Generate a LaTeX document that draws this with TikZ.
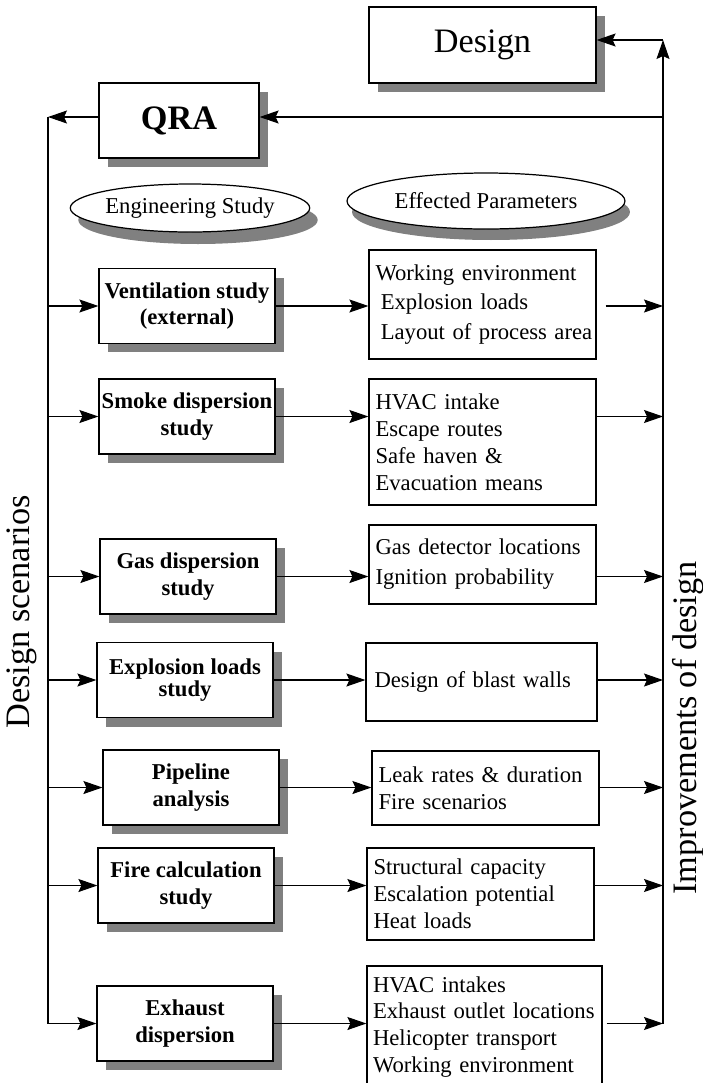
\documentclass[tikz,border=0pt]{standalone}
\usepackage{fontspec}
\setmainfont{Liberation Serif}
\usetikzlibrary{arrows.meta,shapes.geometric,shadows}

\tikzset{
  boxshadow/.style={drop shadow={shadow xshift=0.18cm,shadow yshift=-0.18cm,fill=black!50,opacity=1}},
  topbox/.style={draw,line width=0.7pt,fill=white,boxshadow,minimum width=4.54cm,minimum height=1.52cm,font=\fontsize{19.5}{20}\selectfont},
  stbox/.style={draw,line width=0.7pt,fill=white,boxshadow,inner xsep=0.5pt,minimum width=3.52cm,minimum height=1.5cm,align=center,font=\fontsize{12.9}{15.3}\selectfont\bfseries},
  effbox/.style={draw,line width=0.7pt,inner xsep=0pt,minimum width=4.54cm,text width=4.28cm,align=left,font=\fontsize{12.9}{15.3}\selectfont},
  head/.style={draw,ellipse,line width=0.7pt,fill=white,inner sep=0pt,font=\fontsize{12.9}{15.3}\selectfont},
  arr/.style={-{Stealth[length=0.38cm,width=0.26cm,inset=0.06cm]},line width=0.6pt},
  sidelab/.style={rotate=90,font=\fontsize{19.5}{20}\selectfont}
}

\begin{document}
\begin{tikzpicture}[x=0.02cm,y=-0.02cm]
  \useasboundingbox (0,0) rectangle (703,1083);
  \coordinate (ltop) at (48,117);
  \coordinate (rtop) at (663,40);
  \coordinate (rqra) at (663,117);
  %Design and QRA
  \node[topbox] (design) at (482.5,45) {Design};
  \node[topbox,minimum width=3.2cm,minimum height=1.5cm,font=\fontsize{19.5}{20}\selectfont\bfseries] (qra) at (179,120.5) {QRA};
  %Headings
  \node[head,minimum width=4.12cm,minimum height=0.96cm,
    drop shadow={shadow xshift=0.16cm,shadow yshift=-0.24cm,fill=black!50,opacity=1}] (engst) at (190,208) {Engineering Study};
  \node[head,minimum width=5.56cm,minimum height=1.12cm,
    drop shadow={shadow xshift=0.1cm,shadow yshift=-0.22cm,fill=black!50,opacity=1}] (effpar) at (486,201) {Effected Parameters};
  %Engineering studies
  \node[stbox] (vent) at (187,306) {Ventilation study\\(external)};
  \node[stbox] (smoke) at (187,416.5) {Smoke dispersion\\study};
  \node[stbox] (gas) at (188,576.5) {Gas dispersion\\study};
  \node[stbox] (expl) at (185,680) {Explosion loads\\[-3pt]study};
  \node[stbox] (pipe) at (191,787.5) {Pipeline\\analysis};
  \node[stbox] (fire) at (186,885.5) {Fire calculation\\study};
  \node[stbox] (exh) at (185,1023.5) {Exhaust\\dispersion};
  %Effected parameters
  \node[effbox,minimum height=2.18cm,font=\fontsize{12.9}{17}\selectfont] (eff1) at (482.5,304.5)
    {Working environment\\\mbox{\hspace*{3pt}Explosion loads}\\\mbox{\hspace*{3pt}Layout of process area}};
  \node[effbox,minimum height=2.52cm] (eff2) at (482.5,442)
    {HVAC intake\\Escape routes\\Safe haven \&\\Evacuation means};
  \node[effbox,minimum height=1.58cm,font=\fontsize{12.9}{17}\selectfont] (eff3) at (482.5,564.5)
    {\mbox{Gas detector locations}\\Ignition probability};
  \node[effbox,minimum width=4.62cm,minimum height=1.56cm] (eff4) at (481.5,682)
    {Design of blast walls};
  \node[effbox,minimum height=1.48cm] (eff5) at (485.5,788)
    {\mbox{Leak rates \& duration}\\Fire scenarios};
  \node[effbox,minimum height=1.84cm] (eff6) at (480.5,894)
    {Structural capacity\\Escalation potential\\Heat loads};
  \node[effbox,minimum width=4.7cm,text width=4.46cm,minimum height=2.44cm] (eff7) at (484.5,1027)
    {HVAC intakes\\\mbox{Exhaust outlet locations}\\Helicopter transport\\Working environment};
  %Side labels
  \node[sidelab] (dscen) at (22,612) {Design scenarios};
  \node[sidelab] (impr) at (688,728) {Improvements of design};

  %Upper loop
  \draw[arr] (exh.east -| rtop) -- (rtop);
  \draw[arr] (rtop) -- (rtop -| design.east);
  \draw[arr] (rqra) -- (rqra -| qra.east);
  \draw[arr] (qra.west |- rqra) -- (ltop);
  \draw[line width=0.6pt] (ltop) -- (ltop |- exh.west);
  %Into the studies
  \draw[arr] (vent.west -| ltop) -- (vent.west);
  \draw[arr] (smoke.west -| ltop) -- (smoke.west);
  \draw[arr] (gas.west -| ltop) -- (gas.west);
  \draw[arr] (expl.west -| ltop) -- (expl.west);
  \draw[arr] (pipe.west -| ltop) -- (pipe.west);
  \draw[arr] (fire.west -| ltop) -- (fire.west);
  \draw[arr] (exh.west -| ltop) -- (exh.west);
  %Studies to parameters
  \draw[arr] (vent.east) -- (vent.east -| eff1.west);
  \draw[arr] (smoke.east) -- (smoke.east -| eff2.west);
  \draw[arr] (gas.east) -- (gas.east -| eff3.west);
  \draw[arr] (expl.east) -- (expl.east -| eff4.west);
  \draw[arr] (pipe.east) -- (pipe.east -| eff5.west);
  \draw[arr] (fire.east) -- (fire.east -| eff6.west);
  \draw[arr] (exh.east) -- (exh.east -| eff7.west);
  %Parameters to improvements
  \draw[arr,shorten <=0.18cm] (vent.east -| eff1.east) -- (vent.east -| rtop);
  \draw[arr] (smoke.east -| eff2.east) -- (smoke.east -| rtop);
  \draw[arr] (gas.east -| eff3.east) -- (gas.east -| rtop);
  \draw[arr] (expl.east -| eff4.east) -- (expl.east -| rtop);
  \draw[arr] (pipe.east -| eff5.east) -- (pipe.east -| rtop);
  \draw[arr] (fire.east -| eff6.east) -- (fire.east -| rtop);
  \draw[arr,shorten <=0.08cm] (exh.east -| eff7.east) -- (exh.east -| rtop);
\end{tikzpicture}
\end{document}
